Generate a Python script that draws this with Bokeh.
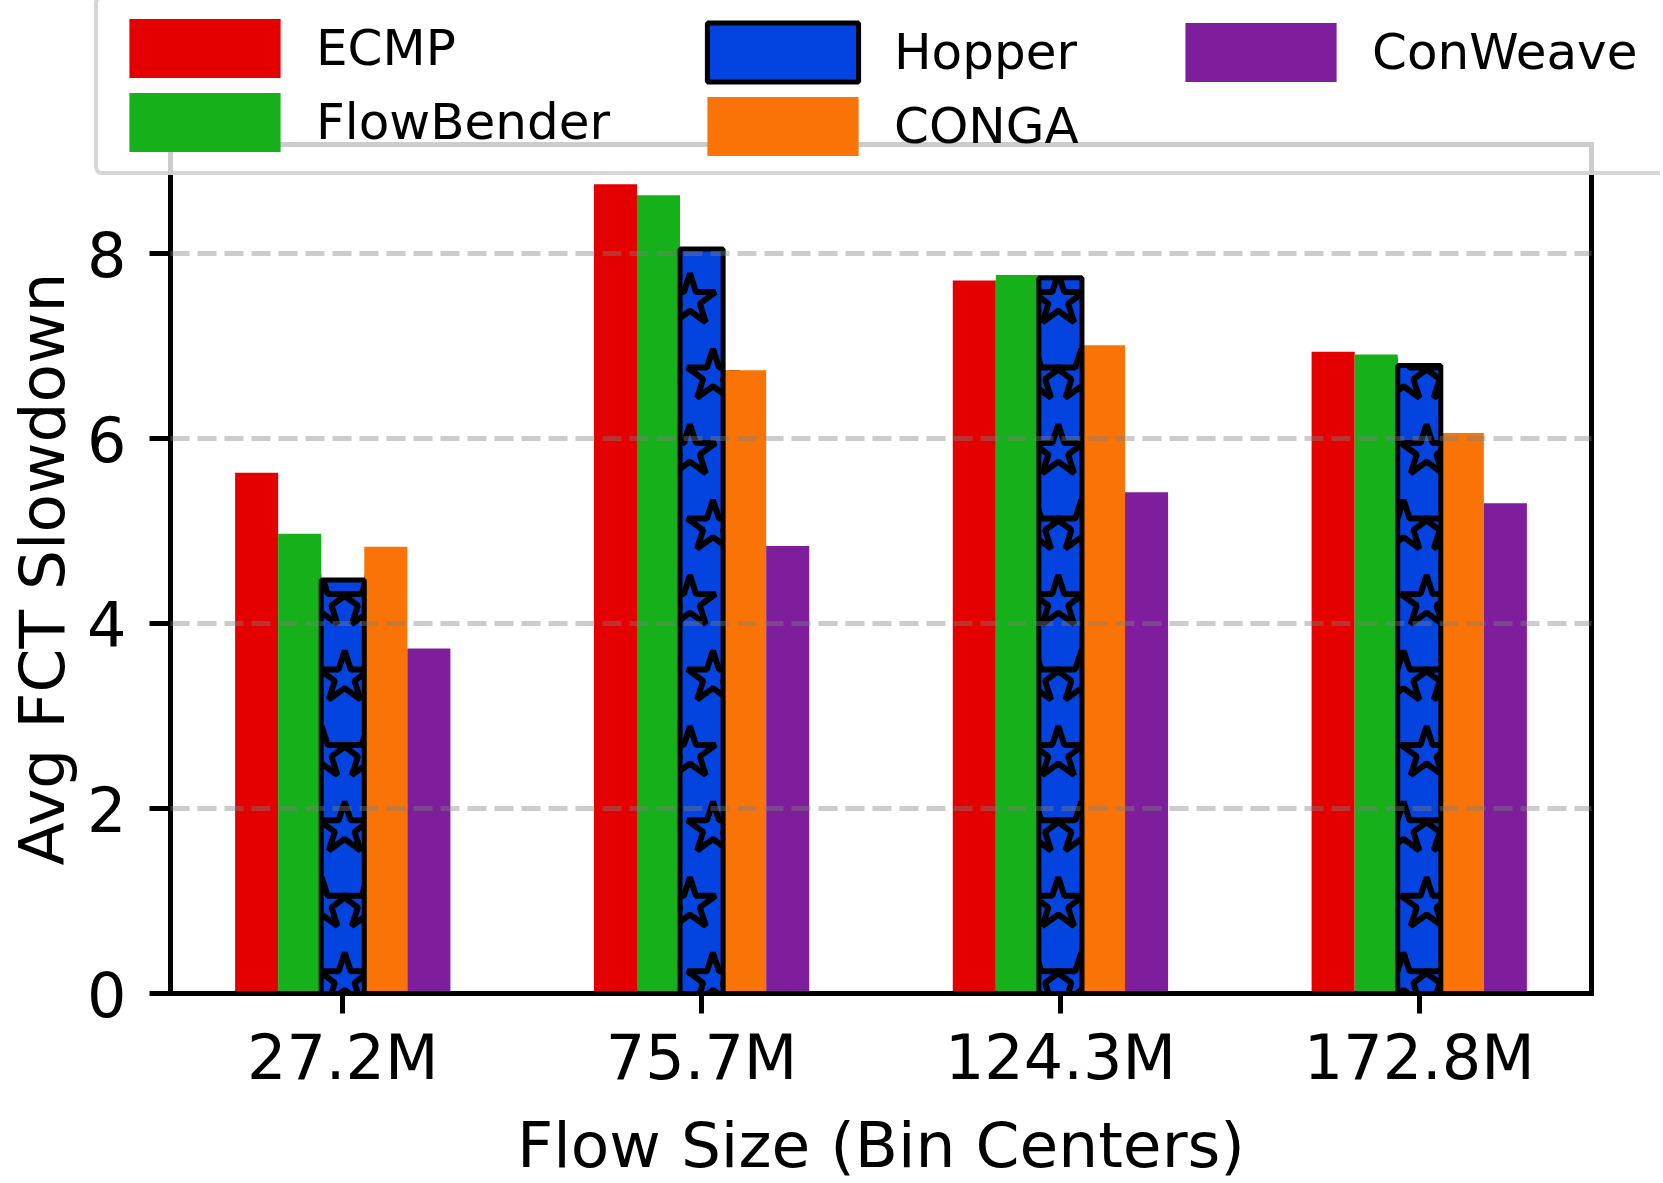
import math
from bokeh.plotting import figure
from bokeh.models import (Range1d, FixedTicker, Legend, LegendItem, LinearAxis, Grid,
                          ColumnDataSource, BoxAnnotation)
from bokeh.embed import file_html
from bokeh.resources import INLINE

# ---------------- data ----------------
categories = ["27.2M", "75.7M", "124.3M", "172.8M"]
ecmp = [5.63, 8.75, 7.71, 6.94]
flowbender = [4.97, 8.63, 7.77, 6.91]
hopper = [4.47, 8.05, 7.74, 6.79]
conga = [4.83, 6.74, 7.01, 6.06]
conweave = [3.73, 4.84, 5.42, 5.30]
y_ticks = [0, 2, 4, 6, 8]

series_names = ["ECMP", "FlowBender", "Hopper", "CONGA", "ConWeave"]
series_values = [ecmp, flowbender, hopper, conga, conweave]
colors = ["#e50000", "#15b01a", "#0343df", "#f97306", "#7e1e9c"]

# ---------------- layout ----------------
# The Bokeh frame fills the whole canvas; the visible axes box is drawn with
# fixed-location axes, so the legend can overlap its top edge (as in the original).
W, H = 1660, 1180
BOX_L, BOX_R, BOX_T, BOX_B = 170, 1591, 144, 993   # axes box in pixels
X0, X1 = -0.48, 3.48                               # data limits of the axes box
Y0, Y1 = 0.0, 9.18
BAR_W = 0.12
PX_X = (BOX_R - BOX_L) / (X1 - X0)
PX_Y = (BOX_B - BOX_T) / (Y1 - Y0)
XR = Range1d(X0 - BOX_L / PX_X, X1 + (W - BOX_R) / PX_X)
YR = Range1d(Y0 - (H - BOX_B) / PX_Y, Y1 + BOX_T / PX_Y)
FONT = "DejaVu Sans"

p = figure(width=W, height=H, x_range=XR, y_range=YR,
           output_backend="svg", toolbar_location=None,
           x_axis_location=None, y_axis_location=None)
p.min_border = 0
p.min_border_left = p.min_border_right = p.min_border_top = p.min_border_bottom = 0
p.outline_line_color = None
p.background_fill_color = "white"
p.border_fill_color = "white"
p.xgrid.visible = False
p.ygrid.visible = False


def make_axis(fixed, bounds, ticks, tick_len, labels=True):
    ax = LinearAxis(fixed_location=fixed, bounds=bounds, ticker=FixedTicker(ticks=ticks))
    ax.axis_line_width = 5
    ax.axis_line_color = "black"
    ax.axis_line_cap = "square"
    ax.major_tick_line_width = 5
    ax.major_tick_line_color = "black"
    ax.major_tick_out = tick_len
    ax.major_tick_in = 0
    ax.minor_tick_out = 0
    ax.minor_tick_in = 0
    ax.minor_tick_line_color = None
    ax.major_label_text_font = FONT
    ax.major_label_text_font_size = "62px" if labels else "0px"
    ax.major_label_text_color = "black"
    ax.axis_label_text_font = FONT
    ax.axis_label_text_font_size = "63px"
    ax.axis_label_text_font_style = "normal"
    ax.axis_label_text_color = "black"
    return ax


yax = make_axis(X0, (Y0, Y1), y_ticks, 21)
yax.major_label_standoff = 23
yax.axis_label = "Avg FCT Slowdown"
yax.axis_label_standoff = 5
p.add_layout(yax, "left")

xax = make_axis(Y0, (X0, X1), list(range(len(categories))), 20)
xax.major_label_overrides = {i: c for i, c in enumerate(categories)}
xax.major_label_standoff = 7
xax.axis_label = "Flow Size (Bin Centers)"
xax.axis_label_standoff = 12
p.add_layout(xax, "below")

top_ax = make_axis(Y1, (X0, X1), [], 0, labels=False)
top_ax.major_label_standoff = 0
p.add_layout(top_ax, "above")
right_ax = make_axis(X1, (Y0, Y1), [], 0, labels=False)
right_ax.major_label_standoff = 0
p.add_layout(right_ax, "right")

grid = Grid(dimension=1, ticker=FixedTicker(ticks=[t for t in y_ticks if t > 0]),
            bounds=(Y0, Y1), cross_bounds=(X0, X1),
            grid_line_color="#808080", grid_line_alpha=0.4,
            grid_line_width=5, grid_line_dash="19 8", level="overlay")
p.add_layout(grid, "center")

# ---------------- bars ----------------
def xs_for(j):
    return [i + (j - 2) * BAR_W for i in range(len(categories))]


renderers = {}
src_h = ColumnDataSource(dict(x=xs_for(2), top=hopper))
r_h_fill = p.vbar(x="x", top="top", width=BAR_W, source=src_h,
                  fill_color=colors[2], line_color=None)

# star hatch emulation: a lattice anchored to the plot, like a hatch
STAR_SIZE = 54
STAR_R_PX = 20
P_HATCH = 0.1283
X_PHASE = 1.994
DY_HATCH = 0.816
Y_PHASE = 0.15
rx = STAR_R_PX / PX_X
ry = STAR_R_PX / PX_Y
sx, sy = [], []
hw = BAR_W / 2
for i, h in enumerate(hopper):
    c = xs_for(2)[i]
    k = 0
    while True:
        y = Y_PHASE + DY_HATCH * k
        if y - 0.5 * ry > h:
            break
        shift = 0.0 if k % 2 == 1 else P_HATCH / 2
        m0 = math.floor((c - hw - rx - X_PHASE - shift) / P_HATCH)
        for m in range(m0, m0 + 5):
            x = X_PHASE + shift + m * P_HATCH
            if abs(x - c) > hw + 0.55 * rx:
                continue
            sx.append(x)
            sy.append(y)
        k += 1
p.scatter(sx, sy, marker="star", size=STAR_SIZE, fill_alpha=0,
          line_color="black", line_width=6)

# keep the hatch inside the Hopper bars: blank out what spills above the bars
mx, mb, mt, mw = [], [], [], []
for i, h in enumerate(hopper):
    reach = h + 2.2 * ry
    for j in (2, 1, 3):
        base = series_values[j][i]
        if reach > base:
            mx.append(xs_for(j)[i])
            mb.append(base)
            mt.append(reach)
            mw.append(BAR_W)
p.vbar(x=mx, bottom=mb, top=mt, width=mw, fill_color="white", line_color=None)

for j in (0, 1, 3, 4):
    src = ColumnDataSource(dict(x=xs_for(j), top=series_values[j]))
    renderers[j] = p.vbar(x="x", top="top", width=BAR_W, source=src,
                          fill_color=colors[j], line_color=None)

r_h_line = p.vbar(x="x", top="top", width=BAR_W, source=src_h,
                  fill_color=None, line_color="black", line_width=5)

# hatch stays inside the axes box: mask what lies below the baseline
mask = BoxAnnotation(top=Y0, fill_color="white", fill_alpha=1.0, line_color=None,
                     level="glyph")
p.add_layout(mask, "center")

# ---------------- legend (three blocks, the first one carries the frame) ----------------
PAD, GW, GH, SP, STD = 12, 189, 74, 0, 17
common = dict(label_text_font=FONT, label_text_font_size="50px", label_text_color="black",
              glyph_width=GW, glyph_height=GH, label_height=GH, label_standoff=STD,
              padding=PAD, spacing=SP, margin=0, orientation="vertical")
LEG_TOP = 3
leg2_h = 2 * PAD + 2 * GH + SP
leg1_h = 2 * PAD + GH
LEG_A_LEFT, LEG_B_LEFT, LEG_C_LEFT = 94, 676, 1154
LEG_A_W = W - LEG_A_LEFT

legA = Legend(items=[LegendItem(label=series_names[0], renderers=[renderers[0]]),
                     LegendItem(label=series_names[1], renderers=[renderers[1]])],
              location=(LEG_A_LEFT, H - LEG_TOP - leg2_h),
              label_width=LEG_A_W - 2 * PAD - GW - STD,
              border_line_color="#cccccc", border_line_alpha=0.8, border_line_width=4,
              background_fill_color="white", background_fill_alpha=0.8, **common)
if "border_radius" in Legend.properties():
    legA.border_radius = 8
legB = Legend(items=[LegendItem(label=series_names[2], renderers=[r_h_fill, r_h_line]),
                     LegendItem(label=series_names[3], renderers=[renderers[3]])],
              location=(LEG_B_LEFT, H - LEG_TOP - leg2_h),
              border_line_alpha=0, background_fill_alpha=0, **common)
legC = Legend(items=[LegendItem(label=series_names[4], renderers=[renderers[4]])],
              location=(LEG_C_LEFT, H - LEG_TOP - leg1_h),
              border_line_alpha=0, background_fill_alpha=0, **common)
for lg in (legA, legB, legC):
    p.add_layout(lg, "center")

open("out.html", "w").write(file_html(p, INLINE))
